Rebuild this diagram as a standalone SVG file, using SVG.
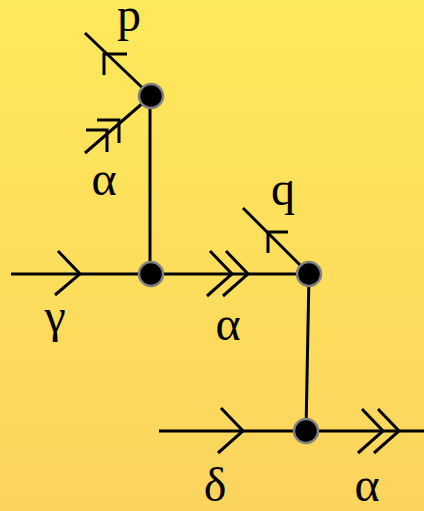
<svg xmlns="http://www.w3.org/2000/svg" width="424" height="511" viewBox="0 0 424 511">
  <defs>
    <linearGradient id="bg" x1="0" y1="0" x2="0" y2="1">
      <stop offset="0" stop-color="#fee95a"/>
      <stop offset="1" stop-color="#fbd45e"/>
    </linearGradient>
  </defs>
  <style>
    .ln { stroke: #000; stroke-width: 3; fill: none; stroke-linecap: butt; }
    .ar { stroke: #000; stroke-width: 3; fill: none; stroke-linejoin: miter; }
    .nd { fill: #000; stroke: #808080; stroke-width: 2.5; }
    .lb { font-family: 'Liberation Serif', 'Times New Roman', serif; font-size: 48px; fill: #000; text-anchor: middle; }
  </style>
  <rect x="0" y="0" width="424" height="511" fill="url(#bg)"/>
  <g id="connectors">
    <line class="ln" x1="85" y1="33" x2="151" y2="96"/>
    <line class="ln" x1="85" y1="153" x2="151" y2="96"/>
    <line class="ln" x1="150" y1="96" x2="150" y2="274"/>
    <line class="ln" x1="11" y1="274" x2="151" y2="274"/>
    <line class="ln" x1="151" y1="274" x2="309" y2="274"/>
    <line class="ln" x1="243" y1="208" x2="309" y2="274"/>
    <line class="ln" x1="309" y1="274" x2="306" y2="431"/>
    <line class="ln" x1="159" y1="431" x2="424" y2="431"/>
    <polyline class="ar" points="127,54 104,54 104,75"/>
    <polyline class="ar" points="86,130 107,130 107,152"/>
    <polyline class="ar" points="97,120 119,120 119,143"/>
    <polyline class="ar" points="58,251 80,274 55,295"/>
    <polyline class="ar" points="210,251 232,274 207,296"/>
    <polyline class="ar" points="226,251 248,274 223,296"/>
    <polyline class="ar" points="288,232 268,232 268,253"/>
    <polyline class="ar" points="221,408 243,431 218,453"/>
    <polyline class="ar" points="362,409 383,431 358,453"/>
    <polyline class="ar" points="378,409 399,431 374,453"/>
  </g>
  <g id="nodeA"><circle class="nd" cx="151" cy="96" r="12"/></g>
  <g id="nodeB"><circle class="nd" cx="151" cy="274" r="12"/></g>
  <g id="nodeC"><circle class="nd" cx="309" cy="274" r="12"/></g>
  <g id="nodeD"><circle class="nd" cx="306" cy="431" r="12"/></g>
  <g id="labels">
    <text class="lb" x="129" y="31">p</text>
    <text class="lb" x="104" y="195">α</text>
    <text class="lb" x="283" y="205">q</text>
    <text class="lb" x="55" y="332">γ</text>
    <text class="lb" x="228" y="340">α</text>
    <text class="lb" x="215" y="501">δ</text>
    <text class="lb" x="367" y="501">α</text>
  </g>
</svg>
